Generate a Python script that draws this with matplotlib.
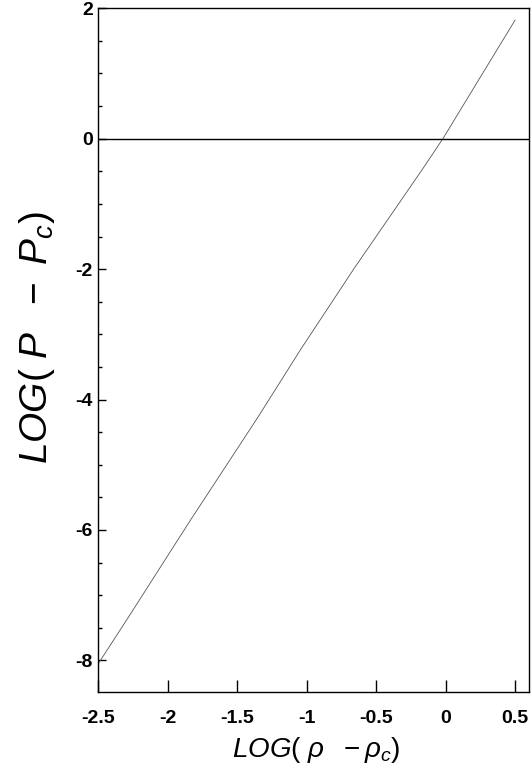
import matplotlib
matplotlib.use('Agg')
import matplotlib.pyplot as plt
from matplotlib.ticker import MultipleLocator

# curve
log_drho = [-2.5, -2.29, -1.84, -1.357, -1.043, -0.659, -0.174, -0.02, 0.5]
log_dp = [-8.05, -7.36, -5.86, -4.29, -3.23, -1.99, -0.49, 0.0, 1.82]

x_ticks = [-2.5, -2, -1.5, -1, -0.5, 0, 0.5]
x_tick_labels = ['-2.5', '-2', '-1.5', '-1', '-0.5', '0', '0.5']
y_ticks = [-8, -6, -4, -2, 0, 2]
y_tick_labels = ['-8', '-6', '-4', '-2', '0', '2']

plt.rcParams['mathtext.fontset'] = 'custom'
plt.rcParams['mathtext.rm'] = 'Liberation Sans'
plt.rcParams['mathtext.it'] = 'Liberation Sans:italic'
plt.rcParams['mathtext.bf'] = 'Liberation Sans:bold'
plt.rcParams['font.family'] = ['Liberation Sans', 'DejaVu Sans']

fig = plt.figure(figsize=(5.32, 7.73), dpi=100)
ax = fig.add_axes([0.1848, 0.1052, 0.8096, 0.8841])

ax.plot(log_drho, log_dp, color='#555555', lw=0.6)
ax.axhline(0, color='black', lw=1.0)

ax.set_xlim(-2.5, 0.6)
ax.set_ylim(-8.48, 2)

ax.set_xticks(x_ticks)
ax.set_xticklabels(x_tick_labels, fontsize=14, fontweight='bold')
ax.set_yticks(y_ticks)
ax.set_yticklabels(y_tick_labels, fontsize=14, fontweight='bold')
ax.yaxis.set_minor_locator(MultipleLocator(0.5))

ax.tick_params(axis='x', which='major', direction='in', length=8.6, width=1.0, pad=13)
ax.tick_params(axis='y', which='major', direction='in', length=6, width=1.0, pad=4)
ax.tick_params(axis='y', which='minor', direction='in', length=3, width=1.0)
ax.tick_params(axis='x', which='minor', bottom=False)

for s in ax.spines.values():
    s.set_linewidth(1.0)
    s.set_color('black')

fig.text(316 / 532, 1 - 750 / 773, r'$LOG(\ \rho\ \ -\rho_c)$',
         ha='center', va='center', fontsize=20)
fig.text(37 / 532, 1 - 338 / 773, r'$LOG(\ P\ \ -\ P_c)$',
         ha='center', va='center', fontsize=28, rotation=90)

fig.savefig('out.png', dpi=100)
